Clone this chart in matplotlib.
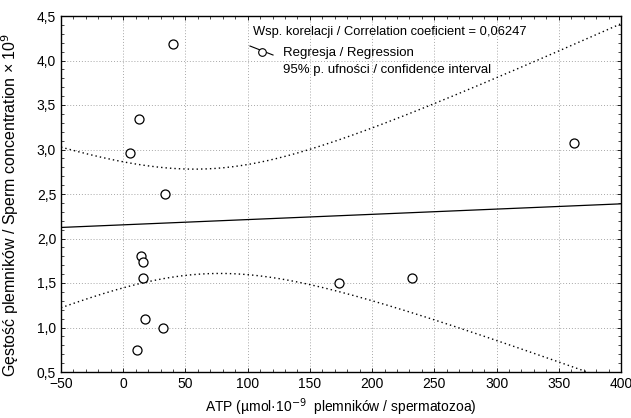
import numpy as np
import matplotlib
matplotlib.use("Agg")
import matplotlib.pyplot as plt
from matplotlib.ticker import MultipleLocator, FuncFormatter
from matplotlib.lines import Line2D

plt.rcParams['font.family'] = ['Liberation Sans', 'DejaVu Sans']

# ATP content (µmol per 10^9 spermatozoa) and sperm concentration (x 10^9);
# two samples coincide with others and plot on top of them
atp = [40.4, 12.8, 12.8, 5.3, 33.4, 33.4, 14.4, 15.5, 15.7, 17.1, 31.8, 11.2, 173.5, 232.0, 362.6]
conc = [4.187, 3.342, 3.342, 2.958, 2.504, 2.504, 1.80, 1.737, 1.552, 1.098, 0.997, 0.749, 1.50, 1.556, 3.075]

x_ticks = [-50, 0, 50, 100, 150, 200, 250, 300, 350, 400]
y_ticks = [0.5, 1.0, 1.5, 2.0, 2.5, 3.0, 3.5, 4.0, 4.5]
corr_label = "Wsp. korelacji / Correlation coeficient = 0,06247"
fit_label = "Regresja / Regression"
ci_label = "95% p. ufności / confidence interval"

x = np.asarray(atp)
y = np.asarray(conc)
n = len(x)

# least squares fit with 95% confidence band for the mean response
slope, intercept = np.polyfit(x, y, 1)
resid = y - (intercept + slope * x)
s = np.sqrt(np.sum(resid ** 2) / (n - 2))
sxx = np.sum((x - x.mean()) ** 2)
t_crit = 2.160369  # Student t, 0.975 quantile, 13 degrees of freedom

xs = np.linspace(x_ticks[0], x_ticks[-1], 400)
ys = intercept + slope * xs
half = t_crit * s * np.sqrt(1.0 / n + (xs - x.mean()) ** 2 / sxx)

# coinciding samples are drawn once so their outlines are not doubled
pts = np.unique(np.column_stack([x, y]), axis=0)

fig = plt.figure(figsize=(6.31, 4.18), dpi=100)
ax = fig.add_axes([61 / 631, 1 - 372 / 418, 560 / 631, 356 / 418])

ax.plot(xs, ys, color='black', lw=0.9, zorder=3)
ax.plot(xs, ys + half, color='black', lw=1.0, ls=(0, (1, 2.2)), zorder=3)
ax.plot(xs, ys - half, color='black', lw=1.0, ls=(0, (1, 2.2)), zorder=3)
ax.plot(pts[:, 0], pts[:, 1], ls='none', marker='o', ms=6.5, mfc='white', mec='black', mew=0.9, zorder=4)

ax.set_xlim(x_ticks[0], x_ticks[-1])
ax.set_ylim(y_ticks[0], y_ticks[-1])
ax.set_xticks(x_ticks)
ax.set_yticks(y_ticks)
ax.xaxis.set_minor_locator(MultipleLocator(10))
ax.yaxis.set_minor_locator(MultipleLocator(0.1))
ax.yaxis.set_major_formatter(FuncFormatter(lambda v, p: f"{v:.1f}".replace('.', ',')))
ax.tick_params(which='both', direction='in', top=True, right=True, labelsize=10, pad=3.5)
ax.tick_params(which='major', length=3, width=0.6)
ax.tick_params(which='minor', length=2, width=0.5)
ax.grid(True, which='major', color='#a8a8a8', ls=(0, (1, 2)), lw=0.7)
ax.set_axisbelow(True)
for sp in ax.spines.values():
    sp.set_linewidth(1.0)

ax.set_xlabel("ATP (µmol·10$^{-9}$  plemników / spermatozoa)", fontsize=10, labelpad=4)
ax.set_ylabel("Gęstość plemników / Sperm concentration × 10$^{9}$", fontsize=11.5)
ax.yaxis.set_label_coords(-0.072, 0.47)

# legend block in the upper area
ax.text(0.343, 0.956, corr_label, transform=ax.transAxes, fontsize=9.3, va='center', ha='left')
ax.add_line(Line2D([0.3375, 0.3786], [0.9157, 0.8904], transform=ax.transAxes, color='black', lw=0.8))
ax.add_line(Line2D([0.359], [0.899], transform=ax.transAxes, ls='none', marker='o', ms=5.5,
                   mfc='white', mec='black', mew=0.8))
ax.text(0.396, 0.896, fit_label, transform=ax.transAxes, fontsize=9.5, va='center', ha='left')
ax.text(0.396, 0.848, ci_label, transform=ax.transAxes, fontsize=9.5, va='center', ha='left')

fig.savefig("out.png", dpi=100)
